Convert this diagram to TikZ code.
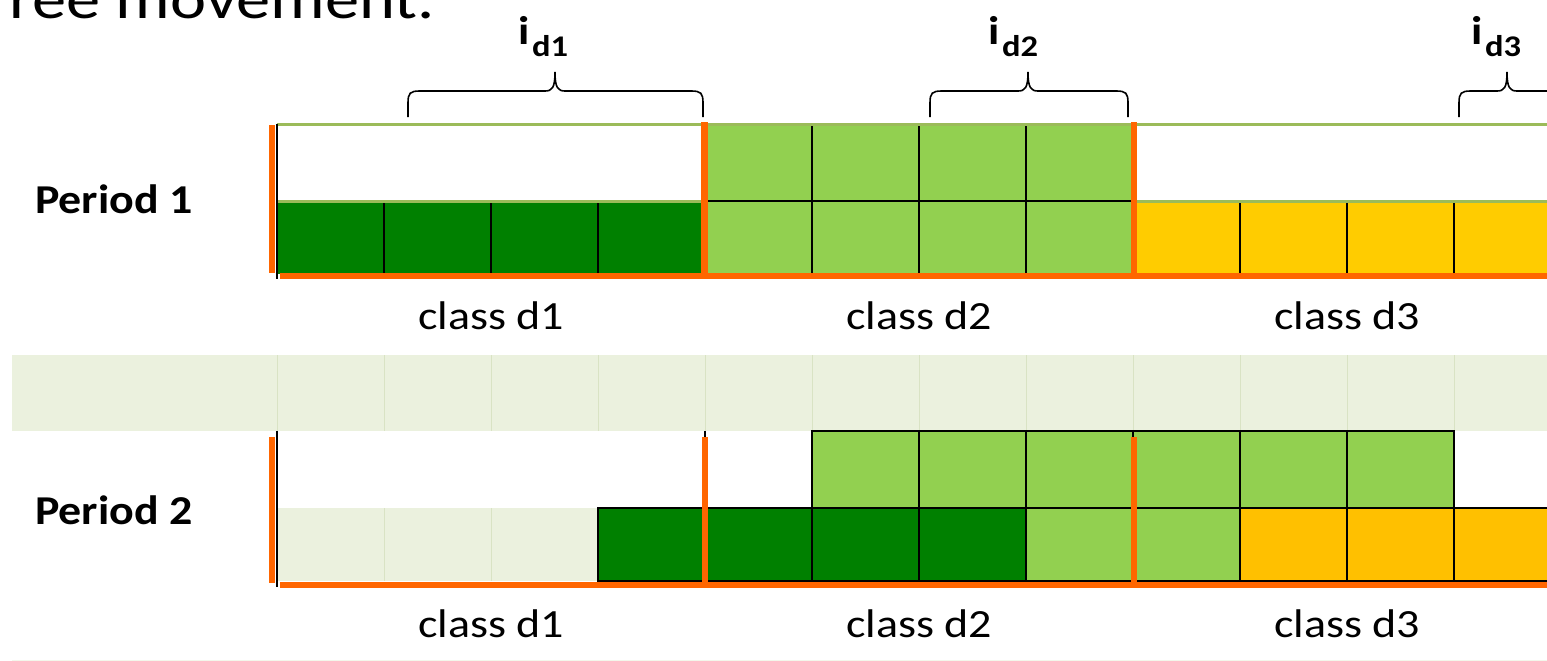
\documentclass[tikz,border=0pt]{standalone}
\usepackage{fontspec}
\setmainfont{Carlito}
\usepackage{graphicx}

\definecolor{dkgreen}{HTML}{008000}
\definecolor{ltgreen}{HTML}{92D050}
\definecolor{yel}{HTML}{FFCC00}
\definecolor{amber}{HTML}{FFC000}
\definecolor{orng}{HTML}{FF6600}
\definecolor{olive}{HTML}{9BBB59}
\definecolor{band}{HTML}{EBF1DE}
\definecolor{bandline}{HTML}{D9E3C4}

% slightly widened lettering
\newcommand{\wide}[1]{\scalebox{1.15}[1]{#1}}
\newcommand{\widebold}[1]{\scalebox{1.12}[1]{#1}}

% curly brace: left x, right x, tip x
\newcommand{\curlybrace}[3]{%
  \draw[bracestyle] (#1,117) -- (#1,103)
    .. controls (#1,93) and (#1+2,91) .. (#1+12,91) -- (#3-10,91)
    .. controls (#3-3,91) and (#3,88) .. (#3,72)
    .. controls (#3,88) and (#3+3,91) .. (#3+10,91) -- (#2-12,91)
    .. controls (#2-2,91) and (#2,93) .. (#2,103) -- (#2,117);}

\begin{document}
\begin{tikzpicture}[x=1pt,y=-1pt,
  cellline/.style={draw=black, line width=2.2pt},
  thinline/.style={draw=black, line width=1.2pt},
  orangebar/.style={draw=orng, line width=6.5pt},
  oliveline/.style={draw=olive, line width=3pt},
  bandstroke/.style={draw=bandline, line width=0.8pt},
  bracestyle/.style={draw=black, line width=1.6pt},
  lbl/.style={inner sep=0pt, font=\fontsize{40}{42}\selectfont},
  plbl/.style={inner sep=0pt, font=\fontsize{41}{42}\selectfont\bfseries},
  ibig/.style={inner sep=0pt, anchor=base west, font=\fontsize{40}{40}\selectfont\bfseries},
  isub/.style={inner sep=0pt, anchor=base west, font=\fontsize{30}{30}\selectfont\bfseries}]
\useasboundingbox (0,0) rectangle (1547,661);
\fill[white] (0,0) rectangle (1547,661);

% heading, running off the top left corner
\begin{scope}
  \clip (6,0) rectangle (600,40);
  \node[inner sep=0pt, anchor=base east, font=\fontsize{57}{60}\selectfont] (title) at (435,19) {\scalebox{1.2}[1]{Free movement.}};
\end{scope}

% ---------- Period 1 ----------
\fill[dkgreen] (277,201) rectangle (705,274);
\fill[ltgreen] (705,124) rectangle (1133,274);
\fill[yel] (1133,201) rectangle (1547,274);
\draw[cellline] (705,201) -- (1133,201);
\foreach \x in {384,491,598} \draw[cellline] (\x,201) -- (\x,274);
\foreach \x in {812,919,1026} \draw[cellline] (\x,124) -- (\x,274);
\foreach \x in {1240,1347,1454} \draw[cellline] (\x,201) -- (\x,274);
\draw[oliveline] (277,124) -- (1547,124);
\draw[oliveline] (277,201) -- (705,201);
\draw[oliveline] (1133,201) -- (1547,201);
\draw[thinline] (277,124) -- (277,279);
\draw[orangebar] (272,125) -- (272,273);
\draw[orangebar] (704.5,122) -- (704.5,276);
\draw[orangebar] (1134,122) -- (1134,276);
\draw[orangebar] (280,276) -- (1547,276);

% braces with labels
\curlybrace{408}{703}{555}
\curlybrace{930}{1128}{1028}
\curlybrace{1459}{1660}{1507}
\node[ibig] (id1) at (518,45) {\wide{i}};
\node[isub] (id1s) at (532,57) {\wide{d1}};
\node[ibig] (id2) at (988,45) {\wide{i}};
\node[isub] (id2s) at (1002,57) {\wide{d2}};
\node[ibig] (id3) at (1471,45) {\wide{i}};
\node[isub] (id3s) at (1485,57) {\wide{d3}};

\node[plbl, anchor=base west] (per1) at (35,213) {\widebold{Period 1}};
\node[lbl, anchor=base] (c11) at (491,329) {\wide{class d1}};
\node[lbl, anchor=base] (c12) at (919,329) {\wide{class d2}};
\node[lbl, anchor=base] (c13) at (1347,329) {\wide{class d3}};

% ---------- separating band ----------
\fill[band] (12,355) rectangle (1547,431);
\foreach \x in {277,384,491,598,705,812,919,1026,1133,1240,1347,1454}
  \draw[bandstroke] (\x,355) -- (\x,431);

% ---------- Period 2 ----------
\fill[band] (277,508) rectangle (598,581);
\foreach \x in {384,491} \draw[bandstroke] (\x,508) -- (\x,581);
\foreach \x in {598,705,812,919}
  \filldraw[cellline, fill=dkgreen] (\x,508) rectangle ++(107,73);
\foreach \x in {1026,1133}
  \filldraw[cellline, fill=ltgreen] (\x,508) rectangle ++(107,73);
\foreach \x in {1240,1347,1454}
  \filldraw[cellline, fill=amber] (\x,508) rectangle ++(107,73);
\foreach \x in {812,919,1026,1133,1240,1347}
  \filldraw[cellline, fill=ltgreen] (\x,431) rectangle ++(107,77);
\draw[thinline] (277,431) -- (277,587);
\draw[thinline] (705,431) -- (705,437);
\draw[orangebar] (272,437) -- (272,583);
\draw[orangebar] (705,437) -- (705,583);
\draw[orangebar] (1134,437) -- (1134,583);
\draw[orangebar] (280,585) -- (1547,585);

\node[plbl, anchor=base west] (per2) at (35,524) {\widebold{Period 2}};
\node[lbl, anchor=base] (c21) at (491,637) {\wide{class d1}};
\node[lbl, anchor=base] (c22) at (919,637) {\wide{class d2}};
\node[lbl, anchor=base] (c23) at (1347,637) {\wide{class d3}};

% faint rule along the foot
\draw[draw=band!60, line width=1pt] (12,660) -- (1547,660);
\end{tikzpicture}
\end{document}
